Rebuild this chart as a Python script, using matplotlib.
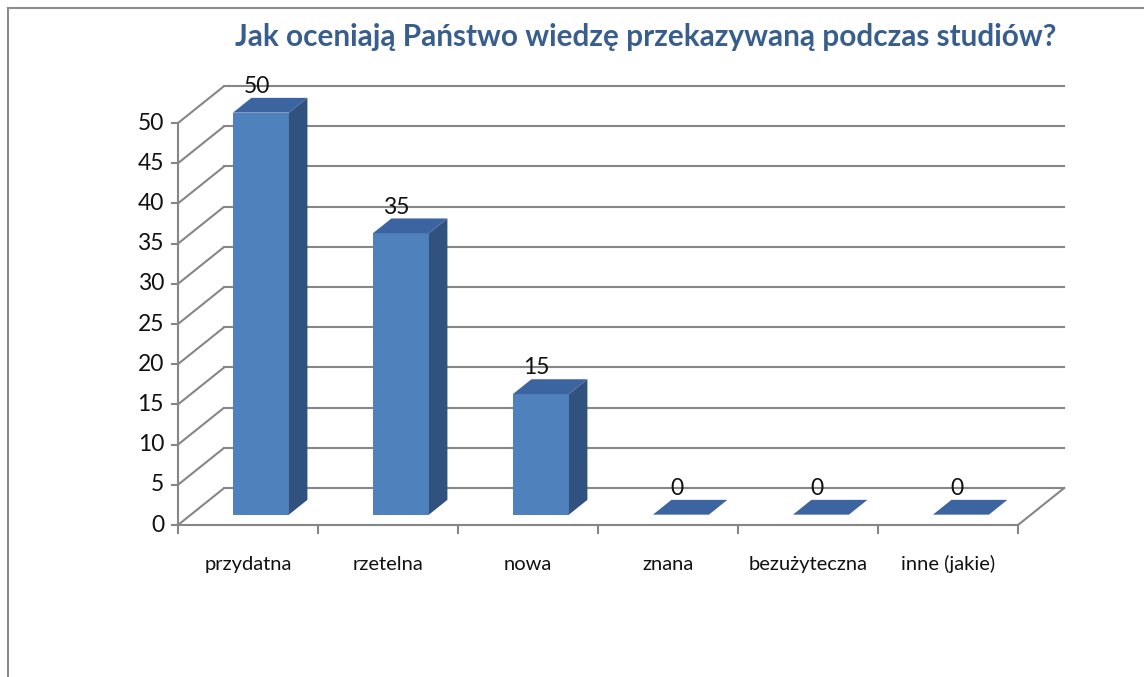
import numpy as np
import matplotlib.pyplot as plt
from matplotlib.patches import Polygon
from matplotlib.lines import Line2D

# dane z wykresu
title = 'Jak oceniają Państwo wiedzę przekazywaną podczas studiów?'
categories = ['przydatna', 'rzetelna', 'nowa', 'znana', 'bezużyteczna', 'inne (jakie)']
values = [50, 35, 15, 0, 0, 0]
yticks = [0, 5, 10, 15, 20, 25, 30, 35, 40, 45, 50]

plt.rcParams['font.family'] = ['Lato', 'DejaVu Sans']

# perspektywa "3D" (przesunięcie głębi w jednostkach osi)
DX, DY = 0.33, 4.6       # głębia ścian
BW = 0.4                 # szerokość słupka
Z0, Z1 = 0.28, 0.68      # położenie słupka w głębi

grid_c = '#868686'
front_c = '#4F81BD'
side_c = '#31527E'
top_c = '#3B64A0'

W, H = 1144, 677
fig = plt.figure(figsize=(W / 100, H / 100), dpi=100)
ax = fig.add_axes([0, 0, 1, 1])
# skala: 140 px na kategorię, 8.04 px na jednostkę, początek w (178, 525)
px_x, px_y = 140.0, 8.04
x0_px, y0_px = 178, 525
ax.set_xlim(-x0_px / px_x, (W - x0_px) / px_x)
ax.set_ylim(-(H - y0_px) / px_y, y0_px / px_y)
ax.axis('off')

n = len(categories)
ymax = max(yticks)

# siatka: ściana tylna i boczna
for v in yticks:
    ax.plot([0, DX], [v, v + DY], color=grid_c, lw=1.5, solid_capstyle='butt')
    ax.plot([DX, n + DX], [v + DY, v + DY], color=grid_c, lw=1.5)
    ax.plot([-0.045, 0], [v, v], color=grid_c, lw=1.5)
    ax.text(-0.1, v, str(v), ha='right', va='center', fontsize=16.5, color='#111111')

# podłoga i osie
ax.plot([0, n], [0, 0], color=grid_c, lw=1.5)
ax.plot([n, n + DX], [0, DY], color=grid_c, lw=1.5)
ax.plot([0, 0], [0, ymax], color=grid_c, lw=1.5)
for i in range(n + 1):
    ax.plot([i, i], [0, -1.0], color=grid_c, lw=1.5)

# słupki
for i, v in enumerate(values):
    xl = i + 0.5 - BW / 2
    xr = xl + BW
    fx0, fy0 = Z0 * DX, Z0 * DY
    fx1, fy1 = Z1 * DX, Z1 * DY
    if v > 0:
        ax.add_patch(Polygon([(xl + fx0, fy0), (xr + fx0, fy0), (xr + fx0, v + fy0), (xl + fx0, v + fy0)],
                             closed=True, facecolor=front_c, edgecolor='none', zorder=3))
        ax.add_patch(Polygon([(xr + fx0, fy0), (xr + fx1, fy1), (xr + fx1, v + fy1), (xr + fx0, v + fy0)],
                             closed=True, facecolor=side_c, edgecolor='none', zorder=3))
    ax.add_patch(Polygon([(xl + fx0, v + fy0), (xr + fx0, v + fy0), (xr + fx1, v + fy1), (xl + fx1, v + fy1)],
                         closed=True, facecolor=top_c, edgecolor='none', zorder=3))
    ax.text(i + 0.5 + fx0 - 0.03, v + fy1 + 0.1, str(v), ha='center', va='bottom',
            fontsize=16.5, color='#111111', zorder=4)

# etykiety kategorii
for i, c in enumerate(categories):
    ax.text(i + 0.5, -4.9, c, ha='center', va='center', fontsize=14.5, color='#111111')

# tytuł
fig.text(0.5645, 1 - 37 / H, title, ha='center', va='center', fontsize=21.4,
         fontweight='bold', color='#385E8E')

# ramka
fig.add_artist(Line2D([8 / W, 1], [1 - 8 / H, 1 - 8 / H], color='#8C8C8C', lw=1.5))
fig.add_artist(Line2D([8 / W, 8 / W], [0, 1 - 8 / H], color='#8C8C8C', lw=1.5))

fig.savefig('out.png', dpi=100)
